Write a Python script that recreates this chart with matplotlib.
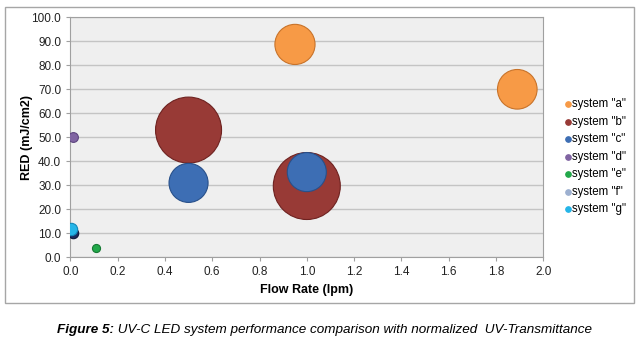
import matplotlib
matplotlib.use('Agg')
from matplotlib import pyplot as plt
from matplotlib.patches import Rectangle

plt.rcParams['font.family'] = ['Liberation Sans', 'DejaVu Sans']

# data
systems = ['system "a"', 'system "b"', 'system "c"', 'system "d"',
           'system "e"', 'system "f"', 'system "g"']
flow_a = [0.95, 1.89]
red_a = [88.7, 70.0]
size_a = [0.37, 0.36]
flow_b = [0.50, 1.00]
red_b = [53.0, 29.7]
size_b = [1.00, 1.03]
flow_c = [0.50, 1.00]
red_c = [31.0, 35.5]
size_c = [0.35, 0.35]
flow_d = [0.01]
red_d = [50.0]
size_d = [0.022]
flow_e = [0.11]
red_e = [4.0]
size_e = [0.015]
flow_f = [0.01]
red_f = [10.0]
size_f = [0.025]
flow_g = [0.004]
red_g = [12.0]
size_g = [0.035]

colors = ['#F79A46', '#983A36', '#3D6EB4', '#8064A2', '#22A84A', '#1B2B60', '#25B5E8']
edges = ['#C8732A', '#6E2220', '#28508A', '#5E4680', '#167A34', '#0E1838', '#1488B8']
legend_colors = ['#F79A46', '#983A36', '#3D6EB4', '#8064A2', '#22A84A', '#9DB0D0', '#25B5E8']

flows = [flow_a, flow_b, flow_c, flow_d, flow_e, flow_f, flow_g]
reds = [red_a, red_b, red_c, red_d, red_e, red_f, red_g]
sizes = [size_a, size_b, size_c, size_d, size_e, size_f, size_g]

scale = (66 * 0.72) ** 2

fig = plt.figure(figsize=(6.43, 3.42), dpi=100)
fig.patch.set_facecolor('white')
fig.patches.append(Rectangle((5 / 643, 1 - 303 / 342), 629 / 643, 296 / 342,
                             transform=fig.transFigure, fill=False,
                             edgecolor='#A6A6A6', linewidth=1.0))

ax = fig.add_axes([70.3 / 643, 1 - 257.3 / 342, 473 / 643, 240 / 342])
ax.set_facecolor('#EFEFEF')

for i in range(len(systems)):
    s = [v * scale for v in sizes[i]]
    ax.scatter(flows[i], reds[i], s=s, c=colors[i], edgecolors=edges[i],
               linewidths=0.8, label=systems[i], zorder=3, clip_on=True)

ax.set_xlim(0, 2.0)
ax.set_ylim(0, 100)
ax.set_xticks([0.0, 0.2, 0.4, 0.6, 0.8, 1.0, 1.2, 1.4, 1.6, 1.8, 2.0])
ax.set_yticks(range(0, 101, 10))
ax.set_xticklabels(['%.1f' % v for v in ax.get_xticks()])
ax.set_yticklabels(['%.1f' % v for v in ax.get_yticks()])
ax.tick_params(labelsize=8.5, colors='#222222', length=3, color='#A0A0A0')
ax.yaxis.grid(True, color='#C4C4C4', linewidth=1.0, zorder=0)
ax.set_axisbelow(True)
for sp in ax.spines.values():
    sp.set_color('#A0A0A0')

ax.set_xlabel('Flow Rate (lpm)', fontsize=9, fontweight='bold', labelpad=4)
ax.set_ylabel('RED (mJ/cm2)', fontsize=9, fontweight='bold', labelpad=-1)

leg = fig.legend(loc='upper left', bbox_to_anchor=(565 / 643, 1 - 98 / 342),
                 bbox_transform=fig.transFigure, frameon=False,
                 fontsize=8.3, handletextpad=0.1, handlelength=0.5,
                 labelspacing=0.48, borderaxespad=0, borderpad=0)
for h, col in zip(leg.legend_handles, legend_colors):
    h.set_sizes([16])
    h.set_facecolor(col)
    h.set_edgecolor(col)

t1 = fig.text(57 / 643, 1 - 330 / 342, 'Figure 5:', fontsize=9.7,
              fontweight='bold', fontstyle='italic', va='center', ha='left')
ax.annotate(' UV-C LED system performance comparison with normalized  UV-Transmittance',
            xy=(1, 0.5), xycoords=t1, va='center', ha='left', fontsize=9.7,
            fontstyle='italic', annotation_clip=False)

plt.savefig('out.png', dpi=100)
